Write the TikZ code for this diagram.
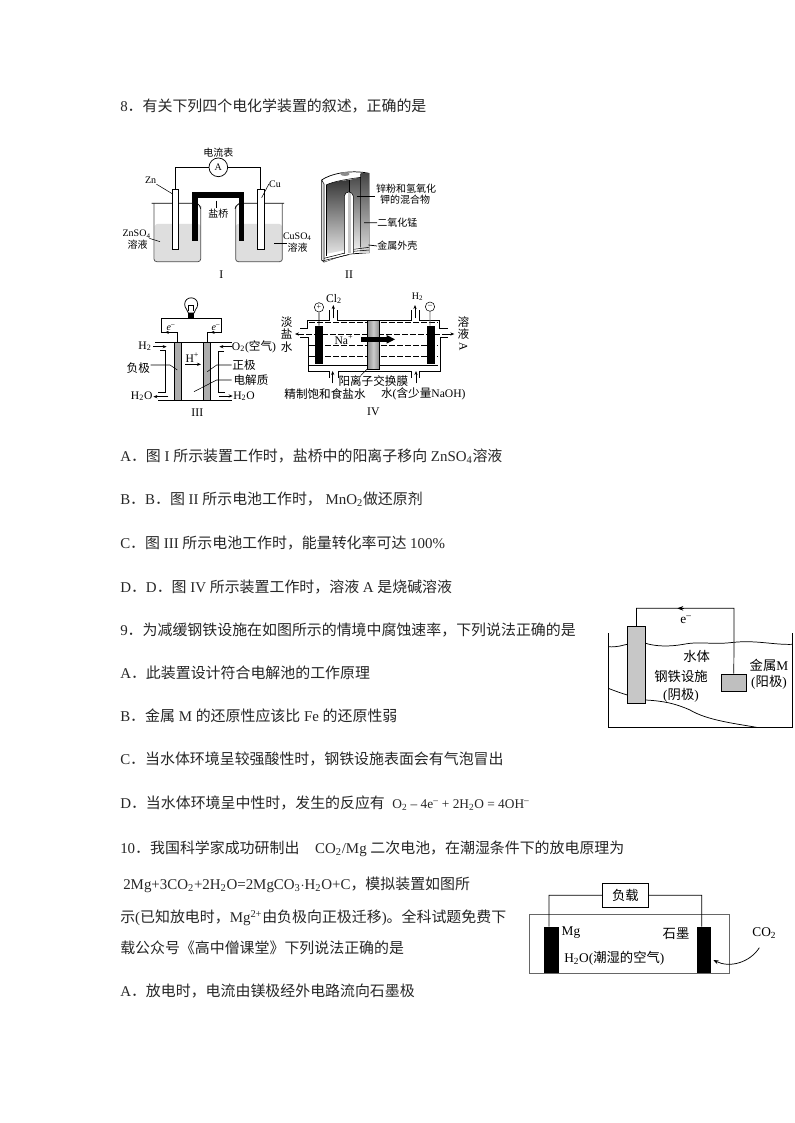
\documentclass[tikz,border=0pt]{standalone}
\usepackage{fontspec}
\setmainfont{Liberation Serif}
\newfontfamily\cjk{Noto Sans CJK SC}
\usetikzlibrary{arrows.meta}
\newcommand{\cj}[1]{{\cjk #1}}
\newcommand{\sub}[1]{\textsubscript{#1}}
\newcommand{\supr}[1]{\textsuperscript{#1}}
\tikzset{
 body/.style={anchor=west,inner sep=0pt,font=\fontsize{11.2}{13}\selectfont,text=black!85},
 tiny/.style={inner sep=0pt,font=\fontsize{7.5}{9}\selectfont},
 rom/.style={inner sep=0pt,font=\fontsize{8.8}{10}\selectfont},
 small/.style={inner sep=0pt,font=\fontsize{8.7}{10}\selectfont},
 mid/.style={inner sep=0pt,font=\fontsize{10}{12}\selectfont},
 wire/.style={line width=.55pt},
 thin wire/.style={line width=.4pt},
 arr/.style={line width=.55pt,-{Stealth[length=3pt,width=2.4pt]}},
 panel/.style={draw,line width=.5pt},
}
\begin{document}
\begin{tikzpicture}[x=0.75pt,y=-0.75pt]
\useasboundingbox (0,0) rectangle (794,1123);
\fill[white] (0,0) rectangle (794,1123);

% ---------- body text ----------
\node[body] (q8) at (120,106) {8\cj{．有关下列四个电化学装置的叙述，正确的是}};
\node[body] (q8a) at (120,456) {A\cj{．图} I \cj{所示装置工作时，盐桥中的阳离子移向} ZnSO\sub{4}\cj{溶液}};
\node[body] (q8b) at (120,499) {B\cj{．}B\cj{．图} II \cj{所示电池工作时，} MnO\sub{2}\cj{做还原剂}};
\node[body] (q8c) at (120,543) {C\cj{．图} III \cj{所示电池工作时，能量转化率可达} 100\%};
\node[body] (q8d) at (120,587) {D\cj{．}D\cj{．图} IV \cj{所示装置工作时，溶液} A \cj{是烧碱溶液}};
\node[body] (q9) at (120,630) {9\cj{．为减缓钢铁设施在如图所示的情境中腐蚀速率，下列说法正确的是}};
\node[body] (q9a) at (120,673) {A\cj{．此装置设计符合电解池的工作原理}};
\node[body] (q9b) at (120,716) {B\cj{．金属} M \cj{的还原性应该比} Fe \cj{的还原性弱}};
\node[body] (q9c) at (120,759) {C\cj{．当水体环境呈较强酸性时，钢铁设施表面会有气泡冒出}};
\node[body] (q9d) at (120,803) {D\cj{．当水体环境呈中性时，发生的反应有}\ \ {\fontsize{10}{12}\selectfont O\sub{2} – 4e\supr{–} + 2H\sub{2}O = 4OH\supr{–}}};
\node[body] (q10) at (120,849) {10\cj{．我国科学家成功研制出}\hspace{9pt} CO\sub{2}/Mg \cj{二次电池，在潮湿条件下的放电原理为}};
\node[body] (q10l) at (123,885) {2Mg+3CO\sub{2}+2H\sub{2}O=2MgCO\sub{3}$\cdot$H\sub{2}O+C\cj{，模拟装置如图所}};
\node[body] (q10m) at (120,918) {\cj{示}(\cj{已知放电时，}Mg\supr{2+}\cj{由负极向正极迁移})\cj{。全科试题免费下}};
\node[body] (q10n) at (120,948) {\cj{载公众号《高中僧课堂》下列说法正确的是}};
\node[body] (q10a) at (120,991) {A\cj{．放电时，电流由镁极经外电路流向石墨极}};

% ---------- Figure I ----------
\begin{scope}[shift={(110,130)},scale=1/3]
 \fill[black!13,rounded corners=2pt] (134,282) -- (134,395) -- (272,395) -- (272,282) -- cycle;
 \fill[black!13,rounded corners=2pt] (377,282) -- (377,395) -- (516,395) -- (516,282) -- cycle;
 \draw[wire,black!70,rounded corners=2pt] (132,220) -- (132,395) -- (272,395) -- (272,228);
 \draw[wire,black!70,rounded corners=2pt] (377,228) -- (377,395) -- (517,395) -- (517,220);
 \draw[wire] (125,220) -- (262,220) .. controls (270,222) and (268,232) .. (272,236);
 \draw[wire] (522,220) -- (388,220) .. controls (378,222) and (380,232) .. (375,236);
 \draw[line width=4pt] (255,332) -- (255,195) -- (394,195) -- (394,332);
 \draw[panel,fill=white] (186,178) rectangle (206,358) coordinate (zncorner);
 \draw[panel,fill=white] (442,178) rectangle (462,358);
 \node[circle,draw,line width=.55pt,fill=white,minimum size=14pt,inner sep=0pt,font=\fontsize{7.5}{9}\selectfont] (amm) at (325,112) {A};
 \coordinate (znt) at (196,178);
 \coordinate (cut) at (452,178);
 \draw[wire] (znt) |- (amm.west);
 \draw[wire] (cut) |- (amm.east);
 \node[tiny] (ammt) at (325,68) {\cj{电流表}};
 \node[tiny] (sbt) at (325,250) {\cj{盐桥}};
 \draw[thin wire] (318,212) -- (sbt.north -| 318,0);
 \node[tiny] (znl) at (122,152) {Zn};
 \draw[thin wire] (znl.south east) -- (188,192);
 \node[tiny] (cul) at (495,162) {Cu};
 \draw[thin wire] (cul.west) -- (455,203);
 \node[tiny] (zns) at (80,313) {ZnSO\sub{4}};
 \node[tiny] (znr) at (83,343) {\cj{溶液}};
 \draw[thin wire] (118,325) -- (150,335);
 \node[tiny] (cus) at (562,320) {CuSO\sub{4}};
 \node[tiny] (cur) at (563,352) {\cj{溶液}};
 \draw[thin wire] (492,340) -- (530,340);
 \node[rom] (fi) at (334,433) {I};
\end{scope}

% ---------- Figure II ----------
\begin{scope}[shift={(300,150)},scale=1/3]
 \draw[wire,fill=white] (65,90) .. controls (90,72) and (150,58) .. (207,70) -- (207,308) -- (150,312) .. controls (120,318) and (95,328) .. (72,336) -- (65,330) -- cycle;
 \shade[top color=black!78,bottom color=black!8] (78,105) .. controls (100,95) and (125,92) .. (147,90) -- (147,312) .. controls (125,316) and (100,322) .. (78,310) -- cycle;
 \shade[top color=black!70,bottom color=black!8] (147,90) -- (182,82) -- (182,292) -- (147,296) -- cycle;
 \shade[top color=black!72,bottom color=black!15] (182,72) -- (207,72) -- (207,308) -- (182,308) -- cycle;
 \fill[white] (78,312) -- (147,298) -- (147,312) .. controls (120,318) and (95,328) .. (72,336) -- (68,328) -- cycle;
 \draw[thin wire] (78,105) -- (78,318);
 \draw[thin wire] (147,90) -- (147,130);
 \draw[thin wire] (78,105) .. controls (100,95) and (125,90) .. (182,82) -- (182,292);
 \draw[thin wire] (72,325) -- (147,306);
 \draw[thin wire] (70,332) -- (147,314);
 \draw[thin wire] (160,298) -- (207,292);
 \draw[thin wire] (160,304) -- (207,300);
 \draw[thin wire] (65,90) -- (72,102) -- (72,336);
 \fill[black!45] (135,72) ellipse [x radius=14,y radius=6];
 \fill[white] (133,312) -- (133,138) .. controls (135,122) and (157,122) .. (160,138) -- (160,310) -- cycle;
 \fill[black!22] (145,130) rectangle (152,310);
 \draw[thin wire] (133,312) -- (133,138) .. controls (135,122) and (157,122) .. (160,138) -- (160,310);
 \node[tiny] (t2a) at (318,115) {\cj{锌粉和氢氧化}};
 \node[tiny] (t2b) at (315,150) {\cj{钾的混合物}};
 \node[tiny] (t2c) at (292,218) {\cj{二氧化锰}};
 \node[tiny] (t2d) at (292,288) {\cj{金属外壳}};
 \draw[wire] (170,138) -- (225,138);
 \draw[wire] (192,218) -- (t2c.west);
 \draw[wire] (205,285) -- (t2d.west);
 \node[rom] (fii) at (147,375) {II};
\end{scope}

% ---------- Figure III ----------
\begin{scope}[shift={(120,285)},scale=1/3]
 \draw[wire,fill=white] (205,84) .. controls (205,74) and (194,72) .. (194,58) .. controls (194,32) and (233,32) .. (233,58) .. controls (233,72) and (222,74) .. (222,84) -- cycle;
 \draw[thin wire] (206,78) -- (206,60) -- (221,60) -- (221,78);
 \fill[black] (205,84) rectangle (222,100);
 \draw[wire] (173,170) -- (173,142) -- (125,142) -- (125,100) -- (305,100) -- (305,142) -- (262,142) -- (262,170);
 \draw[arr] (165,142) -- (135,142);
 \draw[arr] (300,142) -- (272,142);
 \node[tiny,fill=white,inner sep=.3pt] (e1) at (153,128) {\emph{e}\supr{–}};
 \node[tiny,fill=white,inner sep=.3pt] (e2) at (288,128) {\emph{e}\supr{–}};
 \draw[panel,fill=black!32] (163,173) rectangle (185,347);
 \draw[panel,fill=black!32] (250,173) rectangle (272,347);
 \draw[line width=.8pt] (105,172) -- (163,172) (185,172) -- (250,172) (272,172) -- (335,172);
 \draw[line width=.8pt] (115,347) -- (163,347) (185,347) -- (250,347) (272,347) -- (335,347);
 \draw[wire] (120,197) -- (137,197) -- (137,322) -- (115,322);
 \draw[wire] (312,198) -- (295,198) -- (295,322) -- (315,322);
 \node[small] (h2a) at (75,183) {H\sub{2}};
 \node[small] (o2a) at (402,185) {O\sub{2}(\cj{空气})};
 \node[small] (h2o1) at (65,333) {H\sub{2}O};
 \node[small] (h2o2) at (372,333) {H\sub{2}O};
 \draw[arr] (100,185) -- (140,185);
 \draw[arr] (335,185) -- (298,185);
 \draw[arr] (145,335) -- (100,335);
 \draw[arr] (298,333) -- (338,333);
 \node[small] (hp) at (217,218) {H\supr{+}};
 \draw[arr] (195,238) -- (243,238);
 \node[small] (fj) at (55,248) {\cj{负极}};
 \node[small] (zj) at (372,240) {\cj{正极}};
 \node[small] (dj) at (393,285) {\cj{电解质}};
 \draw[thin wire] (92,240) -- (150,240) -- (172,255);
 \draw[thin wire] (335,240) -- (290,240) -- (262,260);
 \draw[thin wire] (335,285) -- (290,285) -- (222,320);
 \node[rom] (fiii) at (232,382) {III};
\end{scope}

% ---------- Figure IV ----------
\begin{scope}[shift={(270,285)},scale=1/3]
 \draw[wire] (90,130) -- (112,130) -- (112,105) -- (178,105) -- (178,75);
 \draw[wire] (202,75) -- (202,105) -- (423,105) -- (423,75);
 \draw[wire] (447,75) -- (447,105) -- (508,105) -- (508,130) -- (535,130);
 \draw[wire] (90,158) -- (115,158) -- (115,258) -- (178,258) -- (178,278);
 \draw[wire] (205,278) -- (205,258) -- (425,258) -- (425,278);
 \draw[wire] (447,278) -- (447,258) -- (510,258) -- (510,158) -- (535,158);
 \draw[thin wire] (118,240) -- (505,240);
 \draw[wire,dashed,dash pattern=on 4pt off 2pt] (118,113) -- (505,113);
 \draw[wire,dashed,dash pattern=on 4pt off 2pt] (118,180) -- (505,180);
 \draw[wire,dashed,dash pattern=on 4pt off 2pt] (118,213) -- (505,213);
 \draw[wire,dashed,dash pattern=on 4pt off 2pt] (85,147) -- (530,147);
 \draw[arr] (95,147) -- (75,147);
 \draw[arr] (530,147) -- (553,147);
 \shade[left color=black!45,right color=black!45,middle color=black!20,draw=black,line width=.4pt] (292,105) rectangle (328,252);
 \fill[black] (135,122) rectangle (160,238);
 \fill[black] (470,122) rectangle (495,238);
 \node[circle,draw,line width=.4pt,minimum size=7pt,inner sep=0pt,font=\fontsize{6}{7}\selectfont] (plus) at (147,67) {+};
 \node[circle,draw,line width=.4pt,minimum size=7pt,inner sep=0pt,font=\fontsize{6}{7}\selectfont] (minus) at (480,65) {–};
 \draw[wire] (plus.south) -- (147,122);
 \draw[wire,black!60] (minus.south) -- (480,122);
 \draw[arr] (190,100) -- (190,60);
 \draw[arr] (435,100) -- (435,60);
 \node[small] (cl2) at (192,42) {Cl\sub{2}};
 \node[tiny] (h2b) at (443,35) {H\sub{2}};
 \node[small] (nap) at (222,165) {Na\supr{+}};
 \draw[line width=4pt] (273,163) -- (350,163);
 \fill[black] (350,150) -- (375,163) -- (350,176) -- cycle;
 \node[small] (yl) at (310,288) {\cj{阳离子交换膜}};
 \draw[thin wire] (292,252) -- (272,272);
 \draw[arr] (188,295) -- (188,258);
 \draw[arr] (438,295) -- (438,258);
 \node[small] (jz) at (165,328) {\cj{精制饱和食盐水}};
 \node[small] (shui) at (460,328) {\cj{水}(\cj{含少量}NaOH)};
 \node[rom] (fiv) at (310,380) {IV};
 \node[small] (d1) at (50,112) {\cj{淡}};
 \node[small] (d2) at (50,148) {\cj{盐}};
 \node[small] (d3) at (50,185) {\cj{水}};
 \node[small] (r1) at (580,112) {\cj{溶}};
 \node[small] (r2) at (580,148) {\cj{液}};
 \node[small,rotate=-90] (r3) at (580,185) {A};
\end{scope}

% ---------- Question 9 figure ----------
\begin{scope}[shift={(600,595)},scale=1/3]
 \draw[wire] (25,115) -- (25,397) -- (578,397) -- (578,115);
 \draw[wire] (25,155) .. controls (50,158) and (70,150) .. (85,147);
 \draw[wire] (137,145) .. controls (170,155) and (210,155) .. (250,148) .. controls (300,138) and (340,150) .. (400,142) .. controls (470,135) and (520,150) .. (578,148);
 \draw[wire] (25,280) .. controls (45,288) and (65,295) .. (82,300);
 \draw[wire] (137,315) .. controls (190,318) and (225,325) .. (270,345) .. controls (320,375) and (400,385) .. (470,397);
 \node[draw,line width=.55pt,fill=black!22,inner sep=0pt,minimum width=13.7pt,minimum height=57.5pt] (steel) at (109.5,210) {};
 \node[draw,line width=.55pt,fill=black!25,minimum width=18.2pt,minimum height=13.2pt,inner sep=0pt] (metal) at (401.5,263.5) {};
 \draw[wire] (steel.north) |- (402,40) -- (metal.north);
 \draw[line width=.55pt,-{Stealth[length=4.5pt,width=3.5pt]}] (252,40) -- (232,40);
 \node[mid] (el) at (258,75) {e\supr{–}};
 \node[mid] (st) at (290,183) {\cj{水体}};
 \node[mid] (gt) at (243,245) {\cj{钢铁设施}};
 \node[mid] (yj) at (243,300) {(\cj{阴极})};
 \node[mid] (js) at (507,210) {\cj{金属}M};
 \node[mid] (yang) at (507,263) {(\cj{阳极})};
\end{scope}

% ---------- Question 10 figure ----------
\begin{scope}[shift={(520,875)},scale=1/3]
 \draw[wire,black!60] (28,117) rectangle (628,295);
 \node[draw,line width=.55pt,fill=white,minimum width=34.5pt,minimum height=18pt,inner sep=0pt,font=\fontsize{10}{12}\selectfont] (load) at (316,61) {\cj{负载}};
 \node[fill=black,minimum width=11pt,minimum height=35pt,inner sep=0pt] (mg) at (95,225) {};
 \node[fill=black,minimum width=11pt,minimum height=35pt,inner sep=0pt] (gr) at (552,225) {};
 \draw[wire] (load.west) -- (87,61) -- (87,155);
 \draw[wire] (load.east) -- (545,61) -- (545,155);
 \node[mid] (mgl) at (153,172) {Mg};
 \node[mid] (grl) at (468,175) {\cj{石墨}};
 \node[mid] (h2ol) at (283,250) {H\sub{2}O(\cj{潮湿的空气})};
 \node[mid] (co2) at (733,175) {CO\sub{2}};
 \draw[wire,-{Stealth[length=4pt,width=3pt]}] (718,218) .. controls (690,262) and (630,280) .. (580,255);
\end{scope}
\end{tikzpicture}
\end{document}
